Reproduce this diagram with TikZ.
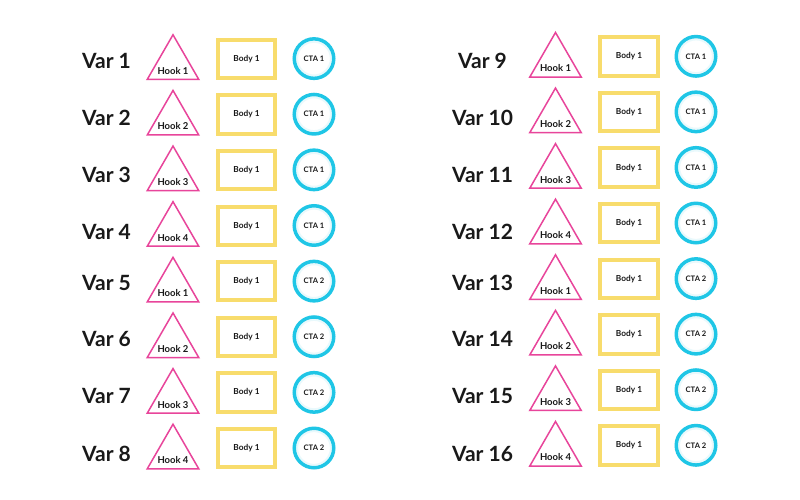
\documentclass[tikz,border=0pt]{standalone}
\usepackage{fontspec}
\setmainfont{Lato}
\usetikzlibrary{shapes.geometric}
\definecolor{hookpink}{HTML}{E8459B}
\definecolor{bodyyellow}{HTML}{F8DC6C}
\definecolor{ctacyan}{HTML}{1FC6E6}
\newcommand\myvarrow[9]{%
  % #1 var number, #2 hook, #3 cta, #4 apex y, #5 baseline y, #6 var x, #7 tri x, #8 rect x, #9 circ x
  \pgfmathsetmacro\tcy{#4+31.2}%
  \pgfmathsetmacro\hby{#4+41}%
  \pgfmathsetmacro\rcy{#4+25.5}%
  \pgfmathsetmacro\ccy{#4+25.3}%
  \node[varlbl] (var#1) at (#6,#5) {Var #1};
  \node[hooktri] (tri#1) at (#7,\tcy) {};
  \node[hooklbl] (hook#1) at (#7,\hby) {Hook #2};
  \node[bodybox] (body#1) at (#8,\rcy) {Body 1};
  \draw[ctaglow] (#9,\ccy) circle (16.8pt);
  \node[ctacirc] (cta#1) at (#9,\ccy) {CTA #3};
}
\begin{document}
\begin{tikzpicture}[x=1pt,y=-1pt,
  varlbl/.style={font=\fontsize{21}{21}\selectfont\bfseries, anchor=base, inner sep=0pt, text=black!90},
  hooktri/.style={draw=hookpink, line width=1.5pt, regular polygon, regular polygon sides=3, minimum size=59.4pt, inner sep=0pt},
  hooklbl/.style={font=\fontsize{9.5}{9.5}\selectfont\bfseries, anchor=base, inner sep=0pt, text=black!90},
  bodybox/.style={draw=bodyyellow, line width=4pt, minimum width=57.5pt, minimum height=38.3pt, inner sep=0pt, font=\fontsize{8.3}{8.3}\selectfont\bfseries, text=black!90},
  ctacirc/.style={draw=ctacyan, circle, line width=3.5pt, minimum size=39.5pt, inner sep=0pt, font=\fontsize{7.6}{7.6}\selectfont\bfseries, text=black!90},
  ctaglow/.style={draw=ctacyan!10, line width=1.8pt},
]
\useasboundingbox (0,0) rectangle (800,500);
\fill[white] (0,0) rectangle (800,500);
\foreach \n/\hk/\ct/\bl [count=\k from 0] in {1/1/1/68.5, 2/2/1/125, 3/3/1/182, 4/4/1/239, 5/1/2/290, 6/2/2/346.7, 7/3/2/403, 8/4/2/461}{
  \pgfmathsetmacro\ay{33.3+55.63*\k}
  \myvarrow{\n}{\hk}{\ct}{\ay}{\bl}{106.5}{173}{246.5}{314}
}
\foreach \n/\hk/\ct/\bl [count=\k from 0] in {9/1/1/68.5, 10/2/1/125, 11/3/1/182, 12/4/1/239, 13/1/2/290, 14/2/2/346.7, 15/3/2/403, 16/4/2/461}{
  \pgfmathsetmacro\ay{31+55.57*\k}
  \myvarrow{\n}{\hk}{\ct}{\ay}{\bl}{482.5}{555.5}{629}{696}
}
\end{tikzpicture}
\end{document}
